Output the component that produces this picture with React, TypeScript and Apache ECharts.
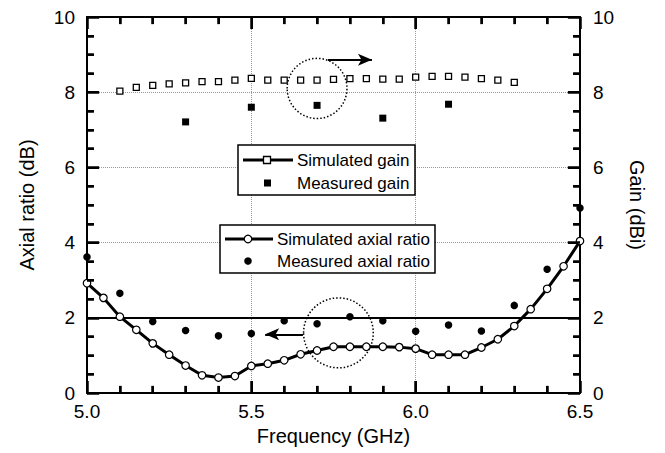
import React, { useEffect, useRef } from "react";
import * as echarts from "echarts";

const simGainFreq = [5.1, 5.15, 5.2, 5.25, 5.3, 5.35, 5.4, 5.45, 5.5, 5.55, 5.6, 5.65, 5.7, 5.75, 5.8, 5.85, 5.9, 5.95, 6.0, 6.05, 6.1, 6.15, 6.2, 6.25, 6.3];
const simGain = [8.03, 8.13, 8.18, 8.22, 8.25, 8.28, 8.28, 8.32, 8.37, 8.32, 8.32, 8.32, 8.32, 8.34, 8.36, 8.36, 8.35, 8.35, 8.4, 8.42, 8.42, 8.4, 8.36, 8.32, 8.26];

const measGainFreq = [5.3, 5.5, 5.7, 5.9, 6.1];
const measGain = [7.21, 7.6, 7.65, 7.31, 7.68];

const simArFreq = [5.0, 5.05, 5.1, 5.15, 5.2, 5.25, 5.3, 5.35, 5.4, 5.45, 5.5, 5.55, 5.6, 5.65, 5.7, 5.75, 5.8, 5.85, 5.9, 5.95, 6.0, 6.05, 6.1, 6.15, 6.2, 6.25, 6.3, 6.35, 6.4, 6.45, 6.5];
const simAr = [2.92, 2.53, 2.03, 1.68, 1.32, 1.02, 0.73, 0.47, 0.41, 0.45, 0.72, 0.78, 0.87, 1.03, 1.13, 1.23, 1.23, 1.23, 1.23, 1.22, 1.18, 1.02, 1.02, 1.02, 1.21, 1.43, 1.78, 2.23, 2.77, 3.37, 4.04];

const measArFreq = [5.0, 5.1, 5.2, 5.3, 5.4, 5.5, 5.6, 5.7, 5.8, 5.9, 6.0, 6.1, 6.2, 6.3, 6.4, 6.5];
const measAr = [3.62, 2.65, 1.9, 1.66, 1.52, 1.58, 1.92, 1.84, 2.03, 1.92, 1.64, 1.81, 1.65, 2.33, 3.29, 4.92];

const xTicks = { min: 5, max: 6.5, interval: 0.5 };
const yTicks = { min: 0, max: 10, interval: 2 };
const xMinorSplit = 5;
const yMinorSplit = 4;
const arThreshold = 2;

// annotation circles [cx, cy, rx, ry] in data units
const circles = [
  [5.7, 8.1, 0.091, 0.8],
  [5.765, 1.6, 0.106, 0.93],
];
const arrows = [
  [[5.733, 8.86], [5.867, 8.86]],
  [[5.657, 1.56], [5.542, 1.56]],
];

const FONT = "Liberation Sans, Arial, Helvetica, sans-serif";

// tick mark lengths expressed in data units (major, minor)
const xTickLen = [0.32, 0.19]; // along y for ticks on the x axes
const yTickLen = [0.037, 0.021]; // along x for ticks on the y axes

function tickSegments() {
  const segs: any[] = [];
  const xStep = xTicks.interval / xMinorSplit;
  const nx = Math.round((xTicks.max - xTicks.min) / xStep);
  for (let i = 0; i <= nx; i++) {
    const v = +(xTicks.min + i * xStep).toFixed(4);
    const l = i % xMinorSplit === 0 ? xTickLen[0] : xTickLen[1];
    segs.push([{ coord: [v, yTicks.min] }, { coord: [v, yTicks.min + l] }]);
    segs.push([{ coord: [v, yTicks.max] }, { coord: [v, yTicks.max - l] }]);
  }
  const yStep = yTicks.interval / yMinorSplit;
  const ny = Math.round((yTicks.max - yTicks.min) / yStep);
  for (let i = 0; i <= ny; i++) {
    const v = +(yTicks.min + i * yStep).toFixed(4);
    const l = i % yMinorSplit === 0 ? yTickLen[0] : yTickLen[1];
    segs.push([{ coord: [xTicks.min, v] }, { coord: [xTicks.min + l, v] }]);
    segs.push([{ coord: [xTicks.max, v] }, { coord: [xTicks.max - l, v] }]);
  }
  return segs;
}

export default function App() {
  const ref = useRef<HTMLDivElement>(null);
  useEffect(() => {
    if (!ref.current) return;
    const chart = echarts.init(ref.current, undefined, { renderer: "svg" });
    const mkAxis = (showSplit: boolean, minorSplit: number) => ({
      type: "value",
      axisLine: { show: true, onZero: false, lineStyle: { color: "#000", width: 2 } },
      axisTick: { show: true, inside: true, length: 12, lineStyle: { color: "#000", width: 2 } },
      minorTick: { show: true, splitNumber: minorSplit, length: 7, lineStyle: { color: "#000", width: 2 } },
      splitLine: { show: showSplit, lineStyle: { color: "#999", type: "dotted", width: 1 } },
      axisLabel: { color: "#000", fontSize: 19, fontFamily: FONT },
      nameTextStyle: { color: "#000", fontSize: 20, fontFamily: FONT },
    });
    const option: any = {
      animation: false,
      grid: { left: 87, right: 85, top: 17, bottom: 60 },
      xAxis: [
        {
          ...mkAxis(true, xMinorSplit),
          ...xTicks,
          position: "bottom",
          axisLabel: { color: "#000", fontSize: 19, fontFamily: FONT, margin: 9, formatter: (v: number) => v.toFixed(1) },
          name: "Frequency (GHz)",
          nameLocation: "middle",
          nameGap: 31,
        },
        {
          ...mkAxis(false, xMinorSplit),
          ...xTicks,
          position: "top",
          axisLabel: { show: false },
        },
      ],
      yAxis: [
        {
          ...mkAxis(true, yMinorSplit),
          ...yTicks,
          position: "left",
          axisLabel: { color: "#000", fontSize: 19, fontFamily: FONT, margin: 12 },
          name: "Axial ratio (dB)",
          nameLocation: "middle",
          nameGap: 50,
        },
        {
          ...mkAxis(false, yMinorSplit),
          ...yTicks,
          position: "right",
          axisLabel: { color: "#000", fontSize: 19, fontFamily: FONT, margin: 13 },
          name: "Gain (dBi)",
          nameLocation: "middle",
          nameGap: 47,
          nameRotate: -90,
        },
      ],
      series: [
        {
          name: "Simulated axial ratio",
          type: "line",
          data: simArFreq.map((f, i) => [f, simAr[i]]),
          lineStyle: { color: "#000", width: 3 },
          symbol: "circle",
          symbolSize: 7.5,
          showAllSymbol: true,
          itemStyle: { color: "#fff", borderColor: "#000", borderWidth: 1.2 },
          clip: false,
          z: 3,
          markLine: {
            silent: true,
            symbol: ["none", "none"],
            label: { show: false },
            lineStyle: { color: "#000", width: 2, type: "solid" },
            data: [{ yAxis: arThreshold }],
            z: 2,
          },
        },
        {
          name: "Measured axial ratio",
          type: "scatter",
          data: measArFreq.map((f, i) => [f, measAr[i]]),
          symbol: "circle",
          symbolSize: 7.5,
          itemStyle: { color: "#000", opacity: 1 },
          clip: false,
          z: 4,
          markLine: {
            silent: true,
            symbol: ["none", "none"],
            label: { show: false },
            lineStyle: { color: "#000", width: 2.5, type: "solid", opacity: 1 },
            emphasis: { disabled: true },
            data: tickSegments(),
            z: 8,
          },
        },
        {
          name: "Simulated gain",
          type: "scatter",
          yAxisIndex: 1,
          data: simGainFreq.map((f, i) => [f, simGain[i]]),
          symbol: "rect",
          symbolSize: 6,
          itemStyle: { color: "#fff", borderColor: "#000", borderWidth: 1.3, opacity: 1 },
          z: 4,
          markLine: {
            silent: true,
            symbol: ["none", "arrow"],
            symbolSize: [9, 14],
            label: { show: false },
            lineStyle: { color: "#000", width: 2, type: "solid" },
            data: arrows.map((a) => [{ coord: a[0] }, { coord: a[1] }]),
          },
        },
        {
          name: "Measured gain",
          type: "scatter",
          yAxisIndex: 1,
          data: measGainFreq.map((f, i) => [f, measGain[i]]),
          symbol: "rect",
          symbolSize: 7,
          itemStyle: { color: "#000", opacity: 1 },
          z: 4,
        },
      ],
    };
    chart.setOption(option);

    const px = (p: number[]) => chart.convertToPixel({ xAxisIndex: 0, yAxisIndex: 0 }, p) as number[];

    const ellipses = circles.map((c) => {
      const ctr = px([c[0], c[1]]);
      const ex = px([c[0] + c[2], c[1]]);
      const ey = px([c[0], c[1] + c[3]]);
      return {
        type: "ellipse",
        shape: { cx: ctr[0], cy: ctr[1], rx: Math.abs(ex[0] - ctr[0]), ry: Math.abs(ey[1] - ctr[1]) },
        style: { fill: "none", stroke: "#000", lineWidth: 1.5, lineDash: [1.5, 2] },
        silent: true,
        z: 10,
      };
    });

    const txt = (x: number, y: number, s: string) => ({
      type: "text",
      x,
      y,
      style: { text: s, fontSize: 17, fontFamily: FONT, fill: "#000", verticalAlign: "middle", align: "left" },
      z: 21,
    });
    const legend1 = [
      { type: "rect", shape: { x: 238, y: 145, width: 177, height: 50 }, style: { fill: "#fff", stroke: "#000", lineWidth: 1.5 }, z: 20 },
      { type: "line", shape: { x1: 243, y1: 160, x2: 293, y2: 160 }, style: { stroke: "#000", lineWidth: 3 }, z: 21 },
      { type: "rect", shape: { x: 263.5, y: 156.5, width: 7, height: 7 }, style: { fill: "#fff", stroke: "#000", lineWidth: 1.3 }, z: 22 },
      txt(297, 160, "Simulated gain"),
      { type: "rect", shape: { x: 264, y: 179.5, width: 7, height: 7 }, style: { fill: "#000" }, z: 22 },
      txt(297, 183, "Measured gain"),
    ];
    const legend2 = [
      { type: "rect", shape: { x: 220, y: 225, width: 215, height: 48 }, style: { fill: "#fff", stroke: "#000", lineWidth: 1.5 }, z: 20 },
      { type: "line", shape: { x1: 225, y1: 239, x2: 273, y2: 239 }, style: { stroke: "#000", lineWidth: 3 }, z: 21 },
      { type: "circle", shape: { cx: 248, cy: 239, r: 3.8 }, style: { fill: "#fff", stroke: "#000", lineWidth: 1.2 }, z: 22 },
      txt(277, 239, "Simulated axial ratio"),
      { type: "circle", shape: { cx: 248, cy: 261, r: 3.8 }, style: { fill: "#000" }, z: 22 },
      txt(277, 261, "Measured axial ratio"),
    ];
    chart.setOption({ graphic: [...ellipses, ...legend1, ...legend2] });

    return () => chart.dispose();
  }, []);
  return <div ref={ref} style={{ position: "fixed", left: 0, top: 0, width: 665, height: 453, background: "#fff" }} />;
}
